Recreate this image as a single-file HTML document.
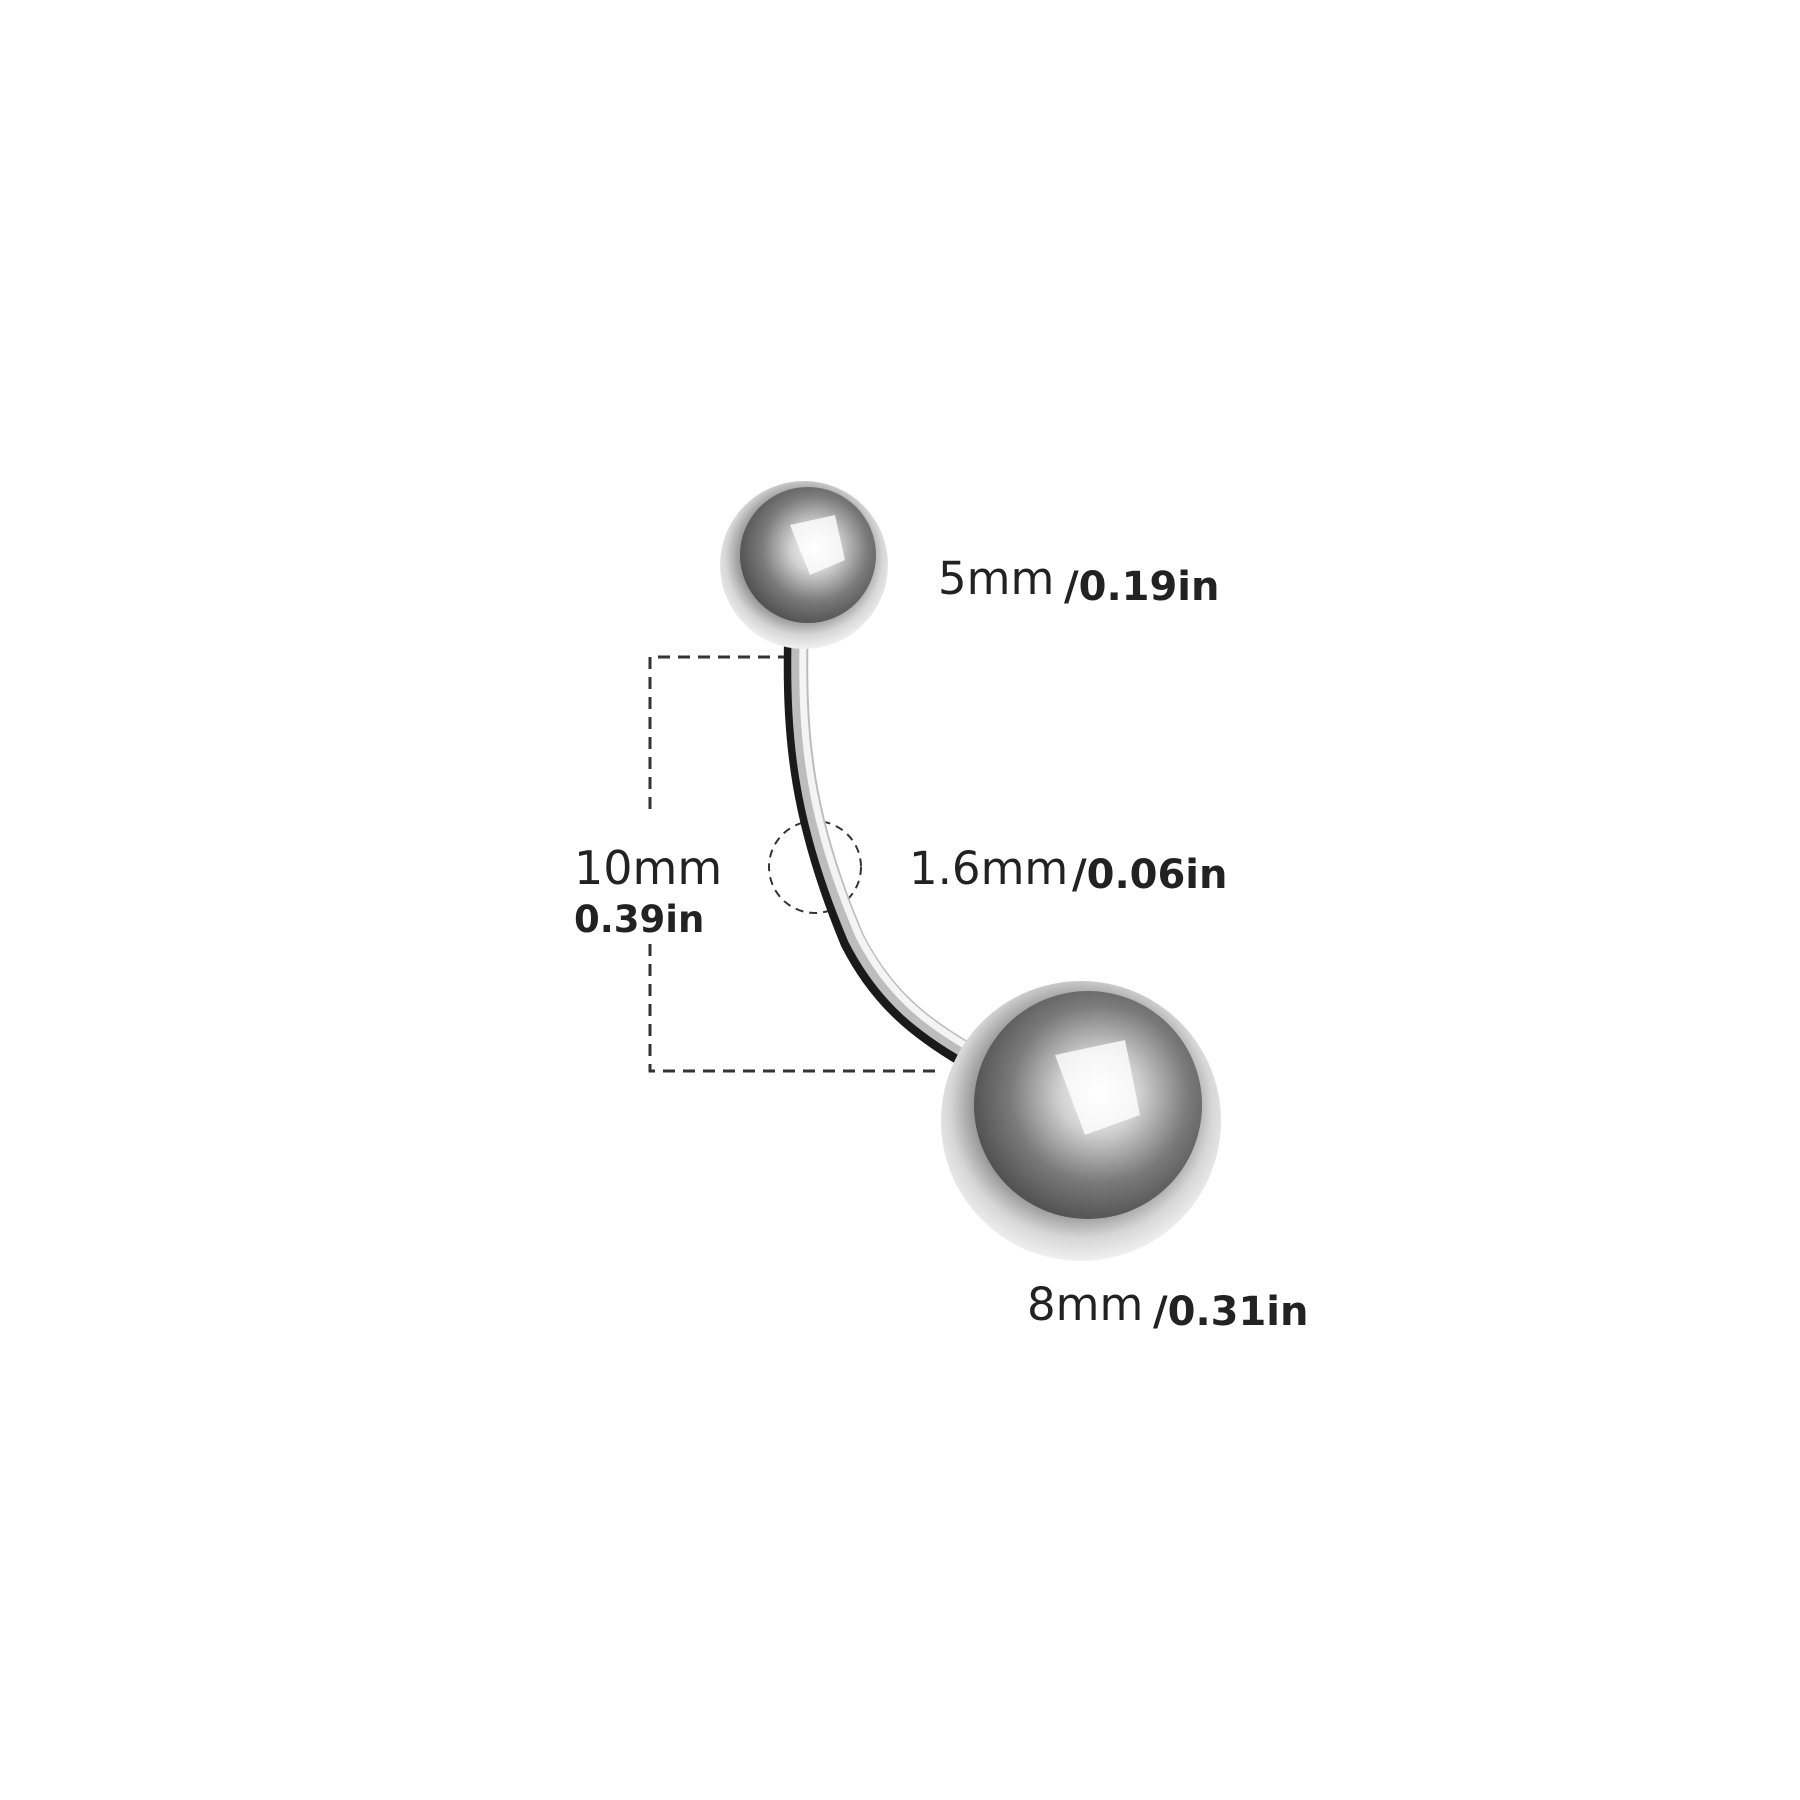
<!DOCTYPE html>
<html><head><style>
html,body{margin:0;padding:0;background:#fff;}
svg{display:block;}
</style></head><body>
<svg width="1800" height="1800" viewBox="0 0 1800 1800" xmlns="http://www.w3.org/2000/svg">
<defs>
<radialGradient id="rim" cx="0.5" cy="0.45" r="0.55">
<stop offset="0.7" stop-color="#9a9a9a"/>
<stop offset="0.85" stop-color="#d6d6d6"/>
<stop offset="1" stop-color="#f0f0f0"/>
</radialGradient>
<radialGradient id="core" cx="0.55" cy="0.45" r="0.6">
<stop offset="0" stop-color="#ffffff"/>
<stop offset="0.3" stop-color="#cfcfcf"/>
<stop offset="0.65" stop-color="#7a7a7a"/>
<stop offset="1" stop-color="#4a4a4a"/>
</radialGradient>
</defs>
<g fill="none" stroke="#333" stroke-width="3" stroke-dasharray="12,8">
<path d="M790 657 H650 V817"/>
<path d="M650 944 V1071 H936"/>
<circle cx="815" cy="867" r="46" stroke-width="2" stroke-dasharray="8,6"/>
</g>
<path d="M796 640 C794 740 802 820 852 941 C882 1000 922 1030 966 1056" fill="none" stroke="#1a1a1a" stroke-width="24"/>
<path d="M800 640 C798 740 806 820 856 938 C886 997 925 1026 968 1051" fill="none" stroke="#bdbdbd" stroke-width="17"/>
<path d="M803 640 C801 740 809 820 859 936 C889 995 927 1023 968 1047" fill="none" stroke="#f4f4f4" stroke-width="7"/>
<circle cx="804" cy="565" r="84" fill="url(#rim)"/>
<circle cx="808" cy="555" r="68" fill="url(#core)"/>
<path d="M790 525 L835 515 L845 560 L810 575 Z" fill="#fff" opacity="0.8"/>
<circle cx="1081" cy="1121" r="140" fill="url(#rim)"/>
<circle cx="1088" cy="1105" r="114" fill="url(#core)"/>
<path d="M1055 1055 L1125 1040 L1140 1115 L1085 1135 Z" fill="#fff" opacity="0.8"/>
<g font-family="'DejaVu Sans','Liberation Sans',sans-serif" fill="#222">
<text x="938" y="594" font-size="45">5mm</text>
<text x="1064" y="600" font-size="40" font-weight="bold">/0.19in</text>
<text x="574" y="884" font-size="46">10mm</text>
<text x="574" y="932" font-size="37" font-weight="bold">0.39in</text>
<text x="909" y="884" font-size="45">1.6mm</text>
<text x="1072" y="888" font-size="40" font-weight="bold">/0.06in</text>
<text x="1027" y="1320" font-size="45">8mm</text>
<text x="1153" y="1325" font-size="40" font-weight="bold">/0.31in</text>
</g>
</svg>
</body></html>
